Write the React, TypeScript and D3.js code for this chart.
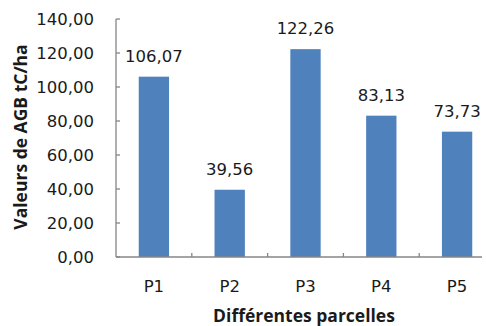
import React from "react";
import * as d3 from "d3";

const categories = ["P1", "P2", "P3", "P4", "P5"];
const values = [106.07, 39.56, 122.26, 83.13, 73.73];
const yTicks = [0, 20, 40, 60, 80, 100, 120, 140];
const yTitle = "Valeurs de AGB tC/ha";
const xTitle = "Différentes parcelles";

const W = 486;
const H = 326;
const left = 116;
const right = 495;
const axisEnd = 482;
const top = 19;
const bottom = 257;
const font = "'DejaVu Sans', sans-serif";
const titleFont = "'Open Sans', sans-serif";

const fmt = (v: number) => v.toFixed(2).replace(".", ",");

export default function App() {
  const x = d3.scaleBand<string>().domain(categories).range([left, right]).padding(0);
  const y = d3.scaleLinear().domain([0, 140]).range([bottom, top]);
  const bw = x.bandwidth() * 0.4;
  const axisColor = "#868686";

  return (
    <svg
      width={W}
      height={H}
      style={{ position: "absolute", left: 0, top: 0, background: "#fff" }}
    >
      {/* bars */}
      {categories.map((c, i) => {
        const cx = (x(c) as number) + x.bandwidth() / 2;
        return (
          <g key={c}>
            <rect
              x={cx - bw / 2}
              y={y(values[i])}
              width={bw}
              height={bottom - y(values[i])}
              fill="#4F81BD"
            />
            <text
              x={cx}
              y={y(values[i]) - 15}
              textAnchor="middle"
              fontFamily={font}
              fontSize={16.5}
              fill="#1a1a1a"
            >
              {fmt(values[i])}
            </text>
          </g>
        );
      })}

      {/* y axis */}
      <line x1={left} x2={left} y1={top} y2={bottom} stroke={axisColor} strokeWidth={1.3} />
      {yTicks.map((t) => (
        <g key={t}>
          <line x1={left} x2={left + 4} y1={y(t)} y2={y(t)} stroke={axisColor} strokeWidth={1.3} />
          <text
            x={94}
            y={y(t)}
            dy="0.36em"
            textAnchor="end"
            fontFamily={font}
            fontSize={16.5}
            fill="#1a1a1a"
          >
            {fmt(t)}
          </text>
        </g>
      ))}

      {/* x axis */}
      <line x1={left} x2={axisEnd} y1={bottom} y2={bottom} stroke={axisColor} strokeWidth={1.3} />
      {categories.slice(1).map((c) => (
        <line
          key={c}
          x1={x(c) as number}
          x2={x(c) as number}
          y1={bottom}
          y2={bottom - 4}
          stroke={axisColor}
          strokeWidth={1.3}
        />
      ))}
      {categories.map((c) => (
        <text
          key={c}
          x={(x(c) as number) + x.bandwidth() / 2}
          y={292}
          textAnchor="middle"
          fontFamily={font}
          fontSize={16.5}
          fill="#1a1a1a"
        >
          {c}
        </text>
      ))}

      {/* titles */}
      <text
        x={304}
        y={322}
        textAnchor="middle"
        fontFamily={titleFont}
        fontWeight="bold"
        fontSize={17.5}
        fill="#1a1a1a"
      >
        {xTitle}
      </text>
      <text
        transform={`translate(27,137) rotate(-90)`}
        textAnchor="middle"
        fontFamily={titleFont}
        fontWeight="bold"
        fontSize={17.5}
        fill="#1a1a1a"
      >
        {yTitle}
      </text>
    </svg>
  );
}
